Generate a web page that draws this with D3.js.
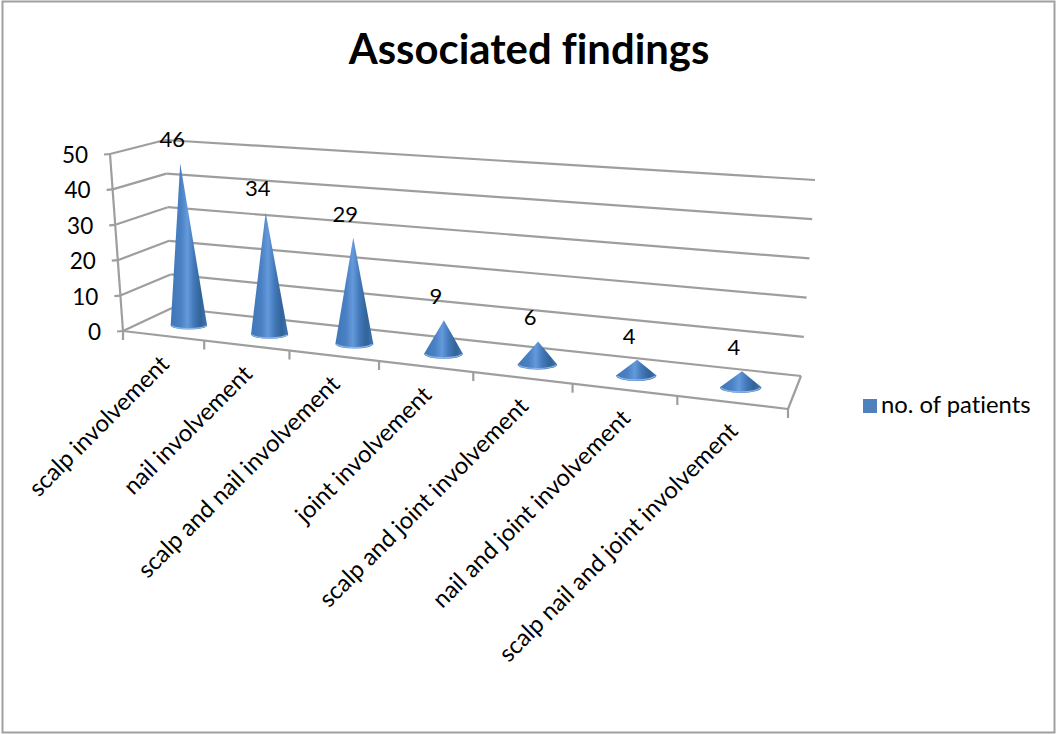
<!DOCTYPE html>
<html>
<head>
<meta charset="utf-8">
<style>
  html, body { margin: 0; padding: 0; background: #fff; }
  svg { display: block; }
  text { font-family: Lato, "Open Sans", sans-serif; fill: #000; font-variant-ligatures: none; }
</style>
<script src="https://cdn.jsdelivr.net/npm/d3@7/dist/d3.min.js"></script>
</head>
<body>
<svg id="chart" width="1056" height="734"></svg>
<script>
// Chart content
const chartTitle = "Associated findings";
const seriesName = "no. of patients";
const categories = [
  "scalp involvement",
  "nail involvement",
  "scalp and nail involvement",
  "joint involvement",
  "scalp and joint involvement",
  "nail and joint involvement",
  "scalp nail and joint involvement"
];
const patients = [46, 34, 29, 9, 6, 4, 4];
const valueTicks = [0, 10, 20, 30, 40, 50];

// Corners of the 3D plot box, as seen on screen
const floorFrontLeft = [123, 331], floorFrontRight = [788, 409];
const floorBackLeft = [172, 308], floorBackRight = [801, 376];
const topFrontLeft = [110, 154], topFrontRight = [808, 204];
const topBackLeft = [165, 140], topBackRight = [815, 180];

const svg = d3.select("#chart");

const band = d3.scaleBand().domain(categories).range([0, 1]);
const valueScale = d3.scaleLinear().domain([0, 50]).range([0, 1]);
const rxScale = d3.scaleLinear().domain([0, 1]).range([18, 21]);
const ryScale = d3.scaleLinear().domain([0, 1]).range([4.2, 6]);

// Foreshortening along the category axis: the far end of the box is compressed less
const perspective = 1.198;
const warp = t => t / (t + perspective * (1 - t));

const mix = (a, b, t) => d3.interpolate(a, b)(t);

// Maps (position along categories, depth, value) to a screen point
function project(u, depth, value) {
  const f = warp(u);
  const base = mix(mix(floorFrontLeft, floorFrontRight, f), mix(floorBackLeft, floorBackRight, f), depth);
  const top = mix(mix(topFrontLeft, topFrontRight, f), mix(topBackLeft, topBackRight, f), depth);
  return mix(base, top, valueScale(value));
}

const gridColor = "#9e9e9e";
const line = (a, b, w = 2.2) => svg.append("line")
  .attr("x1", a[0]).attr("y1", a[1]).attr("x2", b[0]).attr("y2", b[1])
  .attr("stroke", gridColor).attr("stroke-width", w);

// Outer frame
svg.append("rect").attr("x", 2.5).attr("y", 1.5).attr("width", 1052).attr("height", 731)
  .attr("fill", "#fff").attr("stroke", "#a0a0a0").attr("stroke-width", 2);

// Cone shading
const defs = svg.append("defs");
const grad = defs.append("linearGradient").attr("id", "coneFill")
  .attr("x1", 0).attr("x2", 1).attr("y1", 0).attr("y2", 0);
[[0, "#3f76b8"], [0.28, "#4a81c4"], [0.46, "#649adb"], [0.64, "#4278b8"],
 [0.82, "#326499"], [1, "#3e74b4"]].forEach(([o, c]) =>
  grad.append("stop").attr("offset", o).attr("stop-color", c));

// Walls and floor
valueTicks.forEach(v => {
  const front = project(0, 0, v), back = project(0, 1, v), right = project(1, 1, v);
  line([front[0] - 6, front[1] + 0.5], front);
  line(front, back);
  line(back, right);
  svg.append("text")
    .attr("x", front[0] - 22).attr("y", front[1] + 9)
    .attr("text-anchor", "end").attr("font-size", 22.5).text(v);
});
line(project(0, 0, 0), project(0, 0, 50));
line(project(0, 0, 0), project(1, 0, 0));
line(project(1, 0, 0), project(1, 1, 0));

// Ticks under the front edge of the floor
d3.range(categories.length + 1).forEach(i => {
  const p = project(i / categories.length, 0, 0);
  line(p, [p[0], p[1] + 9]);
});

// Cones sit mid-depth; their axes lean with the nearer part of the box
const coneDepth = 0.55, coneDrop = 2.5, leanDepth = 0.3;
const cones = svg.append("g");
categories.forEach((c, i) => {
  const u = band(c) + band.bandwidth() / 2;
  const floorPoint = project(u, coneDepth, 0);
  const base = [floorPoint[0], floorPoint[1] + coneDrop];
  const rise = project(u, leanDepth, patients[i]);
  const foot = project(u, leanDepth, 0);
  const tip = [base[0] + rise[0] - foot[0], base[1] + rise[1] - foot[1]];
  const rx = rxScale(warp(u)), ry = ryScale(warp(u));
  const left = base[0] - rx, right = base[0] + rx;
  cones.append("path")
    .attr("d", `M${left},${base[1]} A${rx},${ry} 0 0 0 ${right},${base[1]} L${tip[0]},${tip[1]} Z`)
    .attr("fill", "url(#coneFill)");
  cones.append("path")
    .attr("d", `M${left + 1},${base[1] + 0.5} A${rx},${ry} 0 0 0 ${right - 1},${base[1] + 0.5}`)
    .attr("fill", "none").attr("stroke", "#8fb6e4").attr("stroke-width", 1.2);

  // Value above the tip
  svg.append("text")
    .attr("x", tip[0] - 8).attr("y", tip[1] - 16)
    .attr("text-anchor", "middle").attr("font-size", 22).text(patients[i]);

  // Slanted category label
  const front = project(u, 0, 0);
  svg.append("text")
    .attr("transform", `translate(${front[0] + 7.5},${front[1] + 30}) rotate(-45)`)
    .attr("text-anchor", "end").attr("font-size", 23.8).text(c);
});

// Title
svg.append("text")
  .attr("x", 529).attr("y", 64)
  .attr("text-anchor", "middle").attr("font-size", 41.8).attr("font-weight", 700)
  .text(chartTitle);

// Legend
svg.append("rect").attr("x", 863).attr("y", 399).attr("width", 14).attr("height", 14).attr("fill", "#4f81bd");
svg.append("text").attr("x", 881).attr("y", 413).attr("font-size", 23.8).text(seriesName);
</script>
</body>
</html>
